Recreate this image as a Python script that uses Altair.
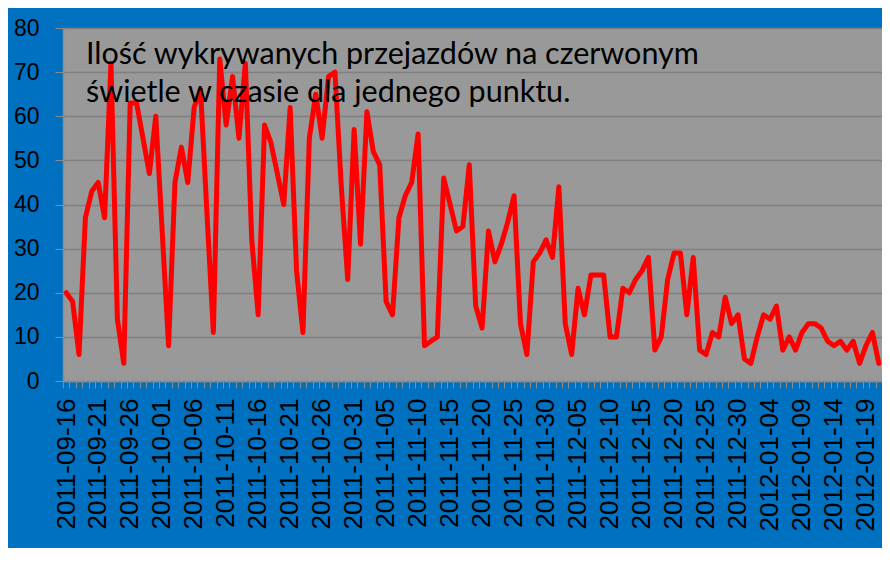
import altair as alt
import pandas as pd

# ---- data ----
start_date = "2011-09-16"
end_date = "2012-01-21"
counts = [20, 18, 6, 37, 43, 45, 37, 72, 14, 4,
          63, 63, 55, 47, 60, 34, 8, 45, 53, 45,
          62, 66, 38, 11, 73, 58, 69, 55, 72, 32,
          15, 58, 54, 47, 40, 62, 25, 11, 55, 65,
          55, 69, 70, 44, 23, 57, 31, 61, 52, 49,
          18, 15, 37, 42, 45, 56, 8, 9, 10, 46,
          40, 34, 35, 49, 17, 12, 34, 27, 31, 36,
          42, 13, 6, 27, 29, 32, 28, 44, 13, 6,
          21, 15, 24, 24, 24, 10, 10, 21, 20, 23,
          25, 28, 7, 10, 23, 29, 29, 15, 28, 7,
          6, 11, 10, 19, 13, 15, 5, 4, 10, 15,
          14, 17, 7, 10, 7, 11, 13, 13, 12, 9,
          8, 9, 7, 9, 4, 8, 11, 4]
tick_labels = ["2011-09-16", "2011-09-21", "2011-09-26", "2011-10-01", "2011-10-06",
               "2011-10-11", "2011-10-16", "2011-10-21", "2011-10-26", "2011-10-31",
               "2011-11-05", "2011-11-10", "2011-11-15", "2011-11-20", "2011-11-25",
               "2011-11-30", "2011-12-05", "2011-12-10", "2011-12-15", "2011-12-20",
               "2011-12-25", "2011-12-30", "2012-01-04", "2012-01-09", "2012-01-14",
               "2012-01-19"]
y_ticks = [0, 10, 20, 30, 40, 50, 60, 70, 80]
title_lines = ["Ilość wykrywanych przejazdów na czerwonym",
               "świetle w czasie dla jednego punktu."]

days = pd.date_range(start_date, end_date, freq="D")
df = pd.DataFrame({
    "date": [d.strftime("%Y-%m-%d") + "T12:00:00Z" for d in days],
    "count": counts,
})
boundaries = pd.date_range(start_date, pd.Timestamp(end_date) + pd.Timedelta(days=1), freq="D")
tick_values = [alt.DateTime(year=d.year, month=d.month, date=d.day, utc=True) for d in boundaries]

labels_js = "[" + ",".join("'" + s + "'" for s in tick_labels) + "]"
label_expr = ("indexof(" + labels_js + ", utcFormat(datum.value, '%Y-%m-%d')) >= 0 ? "
              "utcFormat(datum.value, '%Y-%m-%d') : ''")

x = alt.X(
    "date:T",
    scale=alt.Scale(type="utc", domain=[tick_values[0], tick_values[-1]], nice=False),
    axis=alt.Axis(
        values=tick_values,
        labelExpr=label_expr,
        labelAngle=270,
        labelOffset=3,
        labelFont="Liberation Sans",
        labelFontSize=26,
        labelColor="black",
        labelPadding=10,
        labelOverlap=False,
        labelFlush=False,
        labelBound=False,
        tickSize=7,
        tickColor="#8c8c8c",
        domainColor="#8c8c8c",
        domainWidth=1.5,
        grid=False,
        title=None,
    ),
)
y = alt.Y(
    "count:Q",
    scale=alt.Scale(domain=[0, 80], nice=False),
    axis=alt.Axis(
        values=y_ticks,
        labelFont="Liberation Sans",
        labelFontSize=23,
        labelColor="black",
        labelPadding=16,
        tickSize=8,
        tickColor="#8c8c8c",
        domainColor="#8c8c8c",
        domainWidth=1.5,
        grid=True,
        gridColor="#808080",
        gridWidth=1.5,
        title=None,
    ),
)

line = alt.Chart(df).mark_line(
    color="#FF0000", strokeWidth=5, strokeJoin="round", strokeCap="round"
).encode(x=x, y=y)

title = alt.Chart(pd.DataFrame({"k": [0]})).mark_text(
    text=title_lines, align="left", baseline="alphabetic",
    font="Lato", fontSize=30.5, lineHeight=38, color="black"
).encode(x=alt.value(23), y=alt.value(36))

chart = alt.layer(line, title).properties(
    width=819, height=353,
    background="#0070C0",
    padding={"left": 55, "top": 20, "right": 0, "bottom": 167},
    autosize=alt.AutoSizeParams(type="none"),
).configure_view(fill="#999999", stroke=None)

chart.save("out.html", embed_options={"renderer": "svg", "actions": False})
